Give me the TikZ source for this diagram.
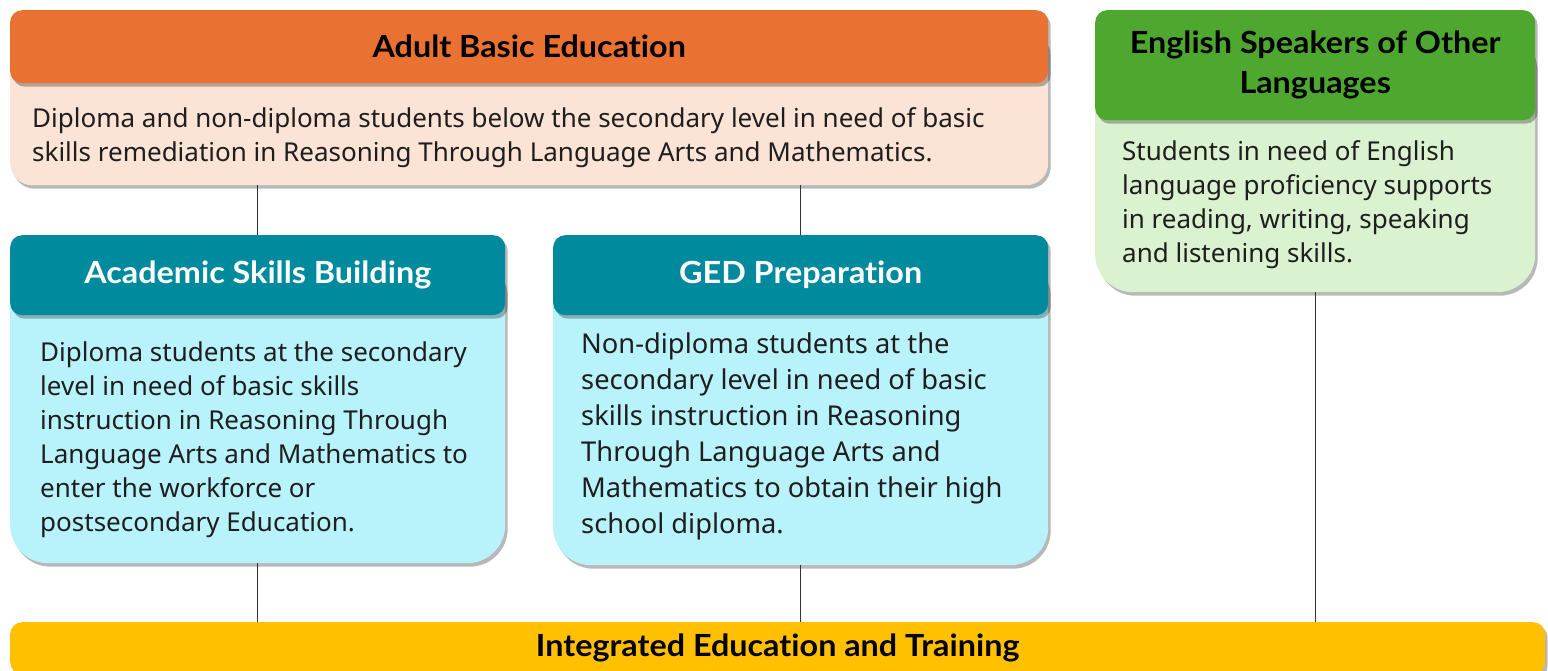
\documentclass[tikz,border=0pt]{standalone}
\usepackage{fontspec}
\setmainfont{Noto Sans}
\newfontfamily\hdrfont[FakeStretch=1.06,Ligatures=NoCommon]{Lato Bold}
\usetikzlibrary{shadows}
\definecolor{abeH}{HTML}{E97132}
\definecolor{abeB}{HTML}{FBE3D6}
\definecolor{esH}{HTML}{4EA72E}
\definecolor{esB}{HTML}{DAF2D0}
\definecolor{tealH}{HTML}{008A9E}
\definecolor{tealB}{HTML}{B8F3FC}
\definecolor{ietH}{HTML}{FFC000}
\definecolor{txtc}{HTML}{1E1E1E}
\tikzset{
  shd/.style={drop shadow={opacity=0.28, shadow xshift=2.5pt, shadow yshift=-3.5pt, fill=black}},
  hdr/.style={shd, rounded corners=12pt, inner sep=0pt, anchor=north west, font=\fontsize{30.5}{40}\selectfont\hdrfont, align=center},
  bodybox/.style={shd, rounded corners=26pt, inner sep=0pt, anchor=north west},
  txt/.style={anchor=north west, align=left, inner sep=0pt, text=txtc, font=\fontsize{26}{34.5}\selectfont},
  conn/.style={draw=black!80, line width=1pt}
}
\begin{document}
\begin{tikzpicture}[x=1pt,y=-1pt]
\clip (0,0) rectangle (1548,670);
\fill[white] (0,0) rectangle (1548,670);
% Adult Basic Education
\node[bodybox, fill=abeB, minimum width=1038pt, minimum height=155pt, rounded corners=22pt] (abeb) at (10,30) {};
\node[hdr, fill=abeH, minimum width=1038pt, minimum height=73pt] (abeh) at (10,10) {Adult Basic Education};
\node[txt] (abet) at (32,107) {Diploma and non-diploma students below the secondary level in need of basic\\skills remediation in Reasoning Through Language Arts and Mathematics.};
% ESOL
\node[bodybox, fill=esB, minimum width=440pt, minimum height=262pt, rounded corners=38pt] (esb) at (1095,30) {};
\node[hdr, fill=esH, minimum width=440pt, minimum height=110pt] (esh) at (1095,10) {English Speakers of Other\\Languages};
\node[txt, font=\fontsize{26}{34}\selectfont] (est) at (1122,140) {Students in need of English\\language proficiency supports\\in reading, writing, speaking\\and listening skills.};
% Academic Skills Building
\node[bodybox, fill=tealB, minimum width=495pt, minimum height=308pt, rounded corners=38pt] (asbb) at (10,255) {};
\node[hdr, fill=tealH, text=white, minimum width=495pt, minimum height=80pt] (asbh) at (10,235) {Academic Skills Building};
\node[txt, font=\fontsize{26}{34}\selectfont] (asbt) at (40,342) {Diploma students at the secondary\\level in need of basic skills\\instruction in Reasoning Through\\Language Arts and Mathematics to\\enter the workforce or\\postsecondary Education.};
% GED Preparation
\node[bodybox, fill=tealB, minimum width=495pt, minimum height=310pt, rounded corners=38pt] (gedb) at (553,255) {};
\node[hdr, fill=tealH, text=white, minimum width=495pt, minimum height=80pt] (gedh) at (553,235) {GED Preparation};
\node[txt, font=\fontsize{27.3}{36}\selectfont] (gedt) at (581,333) {Non-diploma students at the\\secondary level in need of basic\\skills instruction in Reasoning\\Through Language Arts and\\Mathematics to obtain their high\\school diploma.};
% IET
\node[hdr, fill=ietH, minimum width=1535pt, minimum height=52pt] (ieth) at (10,622) {Integrated Education and Training};
% connectors
\draw[conn] (asbh.north |- abeb.south) -- (asbh.north);
\draw[conn] (gedh.north |- abeb.south) -- (gedh.north);
\draw[conn] (asbb.south) -- (asbb.south |- ieth.north);
\draw[conn] (gedb.south) -- (gedb.south |- ieth.north);
\draw[conn] (esb.south) -- (esb.south |- ieth.north);
\end{tikzpicture}
\end{document}
